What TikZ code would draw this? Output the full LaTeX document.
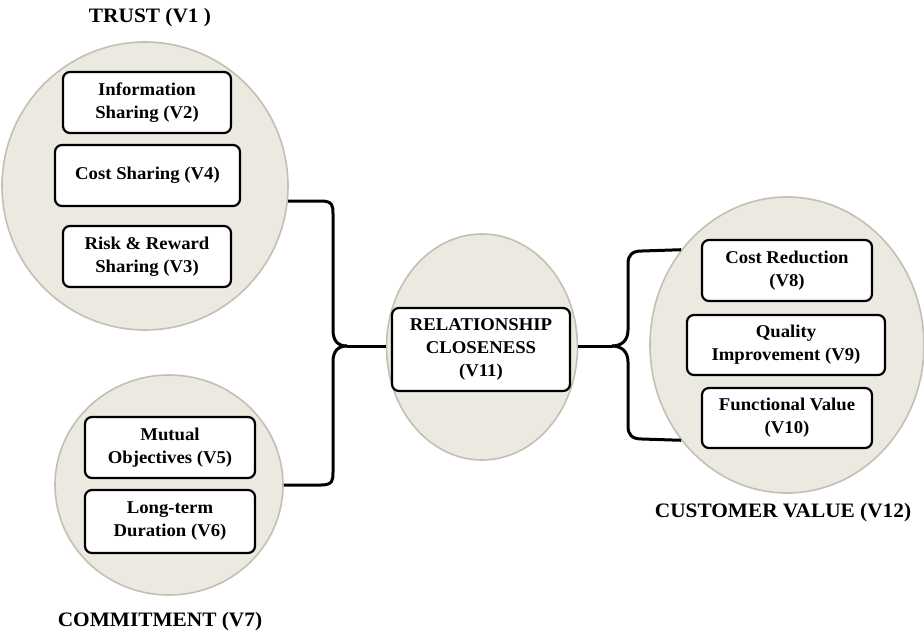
\documentclass[tikz,border=0pt]{standalone}
\usepackage{fontspec}
\setmainfont{Liberation Serif}[FakeStretch=1.04]
\usetikzlibrary{shapes.geometric}
\definecolor{beige}{RGB}{236,233,224}
\definecolor{rimgray}{RGB}{196,191,180}
\tikzset{
  group/.style={ellipse, fill=beige, draw=rimgray, line width=1.6pt, inner sep=0pt},
  item/.style={draw=black, fill=white, line width=2.2pt, rounded corners=7pt, align=center,
    inner sep=0pt, font=\bfseries\fontsize{18}{23}\selectfont},
  title/.style={font=\bfseries\fontsize{20.5}{24}\selectfont, inner sep=0pt},
  conn/.style={draw=black, line width=3pt}
}
\begin{document}
\begin{tikzpicture}[x=1pt,y=-1pt]
\useasboundingbox (0,0) rectangle (924,634);
% groups
\node[group, minimum width=286pt, minimum height=288pt] (trust) at (145,186) {};
\node[group, minimum width=228pt, minimum height=220pt] (commit) at (169,485) {};
\node[group, minimum width=191pt, minimum height=226pt] (rel) at (482,347) {};
\node[group, minimum width=274pt, minimum height=296pt] (cust) at (787,345) {};
% titles
\node[title] (ttrust) at (150,18) {TRUST (V1 )};
\node[title] (tcommit) at (160,622) {COMMITMENT (V7)};
\node[title] (tcust) at (783,513) {CUSTOMER VALUE (V12)};
% connectors
\coordinate (ltip) at (347,346);
\coordinate (rtip) at (612,346);
\draw[conn] (trust.-6) -- (321,201) .. controls (333,201) and (333,206) .. (333,214) -- (333,330)
  .. controls (333,341) and (338,346) .. (ltip);
\draw[conn] (commit.east) -- (321,485) .. controls (333,485) and (333,480) .. (333,472) -- (333,362)
  .. controls (333,351) and (338,346) .. (ltip);
\draw[conn] (ltip) -- (rel.west |- ltip);
\draw[conn] (rel.east |- rtip) -- (rtip);
\draw[conn] (rtip) .. controls (621,346) and (628,341) .. (628,330) -- (628,264)
  .. controls (628,255) and (632,251) .. (642,251) -- (cust.138);
\draw[conn] (rtip) .. controls (621,346) and (628,351) .. (628,362) -- (628,426)
  .. controls (628,435) and (632,439) .. (642,439) -- (cust.222);
% items
\node[item, minimum width=168pt, minimum height=61pt] (v2) at (147,102.5) {Information\\Sharing (V2)};
\node[item, minimum width=185pt, minimum height=61pt] (v4) at (147.5,175.5) {Cost Sharing (V4)};
\node[item, minimum width=168pt, minimum height=61pt] (v3) at (147,256.5) {Risk \& Reward\\Sharing (V3)};
\node[item, minimum width=170pt, minimum height=61pt] (v5) at (170,447.5) {Mutual\\Objectives (V5)};
\node[item, minimum width=170pt, minimum height=63pt] (v6) at (170,521.5) {Long-term\\Duration (V6)};
\node[item, minimum width=178pt, minimum height=83pt] (v11) at (481,349.5) {RELATIONSHIP\\CLOSENESS\\(V11)};
\node[item, minimum width=170pt, minimum height=61pt] (v8) at (787,270.5) {Cost Reduction\\(V8)};
\node[item, minimum width=198pt, minimum height=60pt] (v9) at (786,345) {Quality\\Improvement (V9)};
\node[item, minimum width=170pt, minimum height=60pt] (v10) at (787,418) {Functional Value\\(V10)};
\end{tikzpicture}
\end{document}
